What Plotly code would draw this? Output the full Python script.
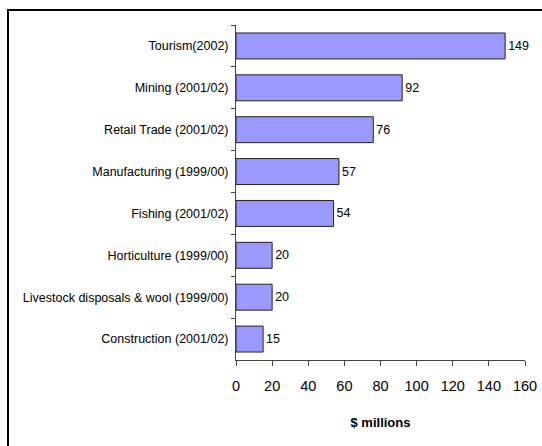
import plotly.graph_objects as go

categories = ["Tourism(2002)", "Mining (2001/02)", "Retail Trade (2001/02)",
              "Manufacturing (1999/00)", "Fishing (2001/02)", "Horticulture (1999/00)",
              "Livestock disposals & wool (1999/00)", "Construction (2001/02)"]
values = [149, 92, 76, 57, 54, 20, 20, 15]
x_ticks = [0, 20, 40, 60, 80, 100, 120, 140, 160]

W, H = 542, 446
L, R, T, B = 236, 17, 25, 86
pw, ph = W - L - R, H - T - B
FONT = "Liberation Sans, Arial"

fig = go.Figure(go.Bar(
    y=categories, x=values, orientation="h",
    marker=dict(color="#9999FF", line=dict(color="#222222", width=1)),
    text=[str(v) for v in values], textposition="outside",
    textfont=dict(family=FONT, size=12.5, color="black"),
    cliponaxis=False,
))

def px_x(p):
    return (p - L) / pw

def px_y(p):
    return (H - B - p) / ph

fig.update_layout(
    width=W, height=H,
    margin=dict(l=L, r=R, t=T, b=B),
    paper_bgcolor="white", plot_bgcolor="white",
    showlegend=False,
    bargap=0.38,
    font=dict(family=FONT, color="black"),
    xaxis=dict(
        range=[0, 160], tickvals=x_ticks, ticktext=[str(t) for t in x_ticks],
        showgrid=False, zeroline=False, showline=True, linecolor="#444444", linewidth=1,
        ticks="outside", ticklen=5, tickcolor="#444444", automargin=False,
        ticklabelstandoff=8,
        tickfont=dict(size=14.5, family=FONT),
        title=dict(text="<b>$ millions</b>", font=dict(size=13, family=FONT), standoff=24),
    ),
    yaxis=dict(
        autorange="reversed", showgrid=False, showline=True, linecolor="#444444", linewidth=1,
        ticks="outside", ticklen=4, tickcolor="#444444", tickson="boundaries", automargin=False,
        ticklabelstandoff=4,
        tickfont=dict(size=12.5, family=FONT),
    ),
    shapes=[dict(type="rect", xref="paper", yref="paper",
                 x0=px_x(8), x1=px_x(W + 12), y0=px_y(H + 12), y1=px_y(10),
                 line=dict(color="black", width=2), fillcolor="rgba(0,0,0,0)", layer="below")],
)

fig.write_html("out.html")
